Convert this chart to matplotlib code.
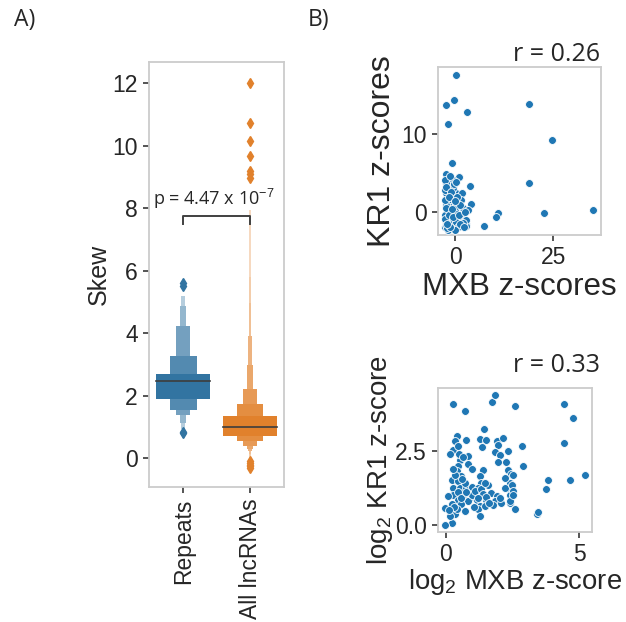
import matplotlib
matplotlib.use("Agg")
import matplotlib.pyplot as plt
import numpy as np

plt.rcParams['font.family'] = ['Liberation Sans', 'DejaVu Sans']
plt.rcParams['mathtext.fontset'] = 'custom'
plt.rcParams['mathtext.rm'] = 'Liberation Sans'
plt.rcParams['mathtext.it'] = 'Liberation Sans'
plt.rcParams['text.color'] = '#262626'
plt.rcParams['axes.labelcolor'] = '#262626'
plt.rcParams['xtick.color'] = '#262626'
plt.rcParams['ytick.color'] = '#262626'

# letter-value boxes (inner box first)
groups = ['Repeats', 'All lncRNAs']
repeats_upper = [2.70, 3.27, 4.23, 4.87, 5.19]
repeats_lower = [1.91, 1.53, 1.37, 1.12, 0.95]
repeats_median = 2.49
repeats_outliers = [5.50, 5.60, 0.85, 0.80]
lnc_upper = [1.355, 1.74, 2.22, 2.99, 3.91, 4.96, 5.81, 7.95]
lnc_lower = [0.725, 0.565, 0.40, 0.30, 0.22, 0.15, 0.08, 0.02]
lnc_median = 0.99
lnc_outliers = [12.03, 10.72, 10.17, 9.67, 9.20, 9.10, 8.98,
                -0.10, -0.15, -0.20, -0.25, -0.30]

# scatter values, raw z-scores
mxb_z = [0.17, -0.17, -2.4, 3.0, -1.9, 18.8, 24.7, 18.9, 35.2, 22.5, 10.9, 10.5, 7.4,
         -0.85, 3.8, 4.1, 0.9, 2.8,
         -2.2, 0.94, -0.5, -2.2, -2.2, 0.34, 1.78, -0.5, -1.78, 0.51, 2.04, -1.78, -0.08,
         -2.62, 2.04, -1.6, 1.6, -2.62, -0.5, 2.88, -2.62, -1.4, 0.76, -0.93, -2.2, 0.34,
         0.76, -1.78, -0.08, -2.2, -0.5, 1.6, 2.88, 3.3,
         -2.5, -2.4, -2.5, -2.3, -2.5, -2.3, -2.0, -1.2, -1.0, -1.2, -0.3, 0.2, -1.5,
         -0.6, 0.3, 1.0, 1.3, 0.5, -0.9, 1.9, 1.2, 2.4, -1.6, 0.0, 2.2, -2.0]
kr1_z = [17.6, 14.4, 13.7, 12.8, 11.3, 13.9, 9.2, 3.7, 0.3, -0.1, -0.1, -0.6, -1.7,
         6.25, 3.4, 1.1, 4.5, -1.5,
         4.89, 4.55, 4.12, 3.70, 2.42, 2.42, 2.5, 3.06, 1.36, 1.27, 0.51, 0.29, 0.29,
         -0.34, -0.34, -1.07, -0.98, -1.84, -1.75, -1.75, 2.85, 0.72, -0.56, -1.2, -1.2, -1.2,
         -1.84, -2.26, -2.26, 0.93, 1.78, 1.57, -0.98, 0.29,
         4.2, 3.2, 1.6, 0.5, -0.9, -1.6, -2.0, -1.8, 2.6, 4.6, 3.6, 3.9, -0.3,
         -0.6, 0.8, -0.3, 0.9, 2.0, 0.4, -1.3, -1.5, 0.1, 2.0, 1.4, -1.9, -1.5]

# scatter values, log2 z-scores
mxb_log = [0.27, 0.71, 1.73, 1.83, 2.61, 1.43, 0.40, 0.34, 0.77, 1.27, 1.52, 1.37, 1.90,
           2.15, 1.96, 0.27, 0.46, 0.15, 1.86, 2.02, 2.33, 0.52, 0.84, 0.46, 0.84, 1.96,
           2.27, 0.96, 0.40, 1.40, 1.27, 0.21, 0.58, 2.33, 2.46, 0.46, 0.27, 0.52, 0.77,
           0.96, 1.33, 1.58, 1.21, 0.27, 0.65, 0.96, 1.40, 1.71, 1.90, 2.33, 2.40, 2.21,
           2.40, 0.46, 0.84, 1.15, 1.52, 1.83, 2.08, 2.40, 0.21, 0.58, 1.27, 1.77, 2.58,
           -0.04, 0.34, 0.71, 1.21, 1.27, 0.21, -0.04, 0.96, 1.09, 0.71, 0.09, 0.40, 1.46,
           2.02, 4.43, 4.76, 2.86, 4.43, 2.88, 3.83, 3.77, 4.66, 5.23, 3.41, 3.44, 2.53,
           2.47, 2.51, 2.41,
           0.30, 0.45, 0.55, 0.60, 0.35, 0.50, 0.75, 1.30, 1.40, 1.50, 1.60, 1.20, 0.15,
           0.10, 1.45, 2.20, 2.50, 0.25, 0.65, 1.05]
kr1_log = [4.10, 3.87, 4.16, 4.40, 4.01, 3.23, 3.00, 2.83, 2.86, 2.92, 2.88, 2.64, 2.83,
           2.94, 2.71, 2.54, 2.66, 2.41, 2.47, 2.38, 2.49, 2.21, 2.32, 1.98, 2.06, 2.13,
           2.13, 1.90, 1.81, 1.87, 1.64, 1.53, 1.64, 1.87, 1.72, 1.48, 1.25, 1.25, 1.25,
           1.27, 1.42, 1.36, 1.25, 1.02, 1.02, 0.94, 1.02, 1.08, 0.97, 1.25, 1.42, 1.23,
           1.00, 0.85, 0.80, 0.85, 0.85, 0.80, 0.74, 0.74, 0.69, 0.69, 0.63, 0.66, 0.52,
           0.57, 0.35, 0.46, 0.52, 0.29, 0.07, -0.01, 1.02, 1.14, 1.42, 0.97, 0.52, 0.63,
           0.91, 4.10, 3.61, 2.68, 2.76, 2.00, 1.53, 1.21, 1.53, 1.69, 0.35, 0.43, 1.68,
           1.36, 1.14, 0.80,
           0.60, 1.10, 0.90, 1.55, 1.70, 2.40, 1.10, 1.20, 1.05, 0.95, 0.75, 0.90, 0.30,
           0.50, 1.40, 1.60, 1.00, 1.90, 2.30, 0.60]

blue = np.array(matplotlib.colors.to_rgb('#3274a1'))
orange = np.array(matplotlib.colors.to_rgb('#e1812c'))
spine_col = '#cccccc'
side_font = ['Open Sans', 'DejaVu Sans']


def lighten(c, f):
    return tuple(c + (1 - c) * f)


def boxen(ax, x, uppers, lowers, median, outliers, base, point_col):
    n = len(uppers)
    for k in range(n - 1, -1, -1):
        w = max(0.8 * 0.5 ** k, 0.022)
        col = lighten(base, 0.8 * k / n)
        ax.bar(x, uppers[k] - lowers[k], bottom=lowers[k], width=w, color=col, linewidth=0, zorder=2)
    ax.plot([x - 0.4, x + 0.4], [median, median], color='#3d3d3d', lw=1.2, zorder=3)
    ax.plot([x] * len(outliers), outliers, ls='none', marker='d', ms=5,
            color=point_col, mec=point_col, zorder=3)


def style_axes(ax):
    for s in ax.spines.values():
        s.set_color(spine_col)
        s.set_linewidth(1.3)
    ax.tick_params(labelsize=16.5, length=4.5, width=1.1)


fig = plt.figure(figsize=(6.26, 6.22), dpi=100)

ax1 = fig.add_axes([0.238, 0.217, 0.216, 0.683])
boxen(ax1, 0, repeats_upper, repeats_lower, repeats_median, repeats_outliers, blue, '#3274a1')
boxen(ax1, 1, lnc_upper, lnc_lower, lnc_median, lnc_outliers, orange, '#e1812c')
ax1.set_xlim(-0.51, 1.51)
ax1.set_ylim(-0.92, 12.68)
ax1.set_yticks([0, 2, 4, 6, 8, 10, 12])
ax1.set_xticks([0, 1])
ax1.set_xticklabels(groups, rotation=90)
ax1.set_ylabel('Skew', fontsize=18, labelpad=1)
style_axes(ax1)
ax1.plot([0, 0, 1, 1], [7.5, 7.77, 7.77, 7.5], color='#404040', lw=1.4, zorder=4)
ax1.text(0.46, 8.12, 'p = 4.47 x 10$^{-7}$', ha='center', va='baseline',
         fontsize=13, family=side_font)

ax2 = fig.add_axes([0.700, 0.622, 0.260, 0.270])
ax2.scatter(mxb_z, kr1_z, s=32, color='#1f77b4', edgecolor='white', linewidth=0.6, zorder=3)
ax2.set_xlim(-4.3, 37.1)
ax2.set_ylim(-2.9, 18.55)
ax2.set_xticks([0, 25])
ax2.set_yticks([0, 10])
ax2.set_xlabel('MXB z-scores', fontsize=22.5, labelpad=2)
ax2.set_ylabel('KR1 z-scores', fontsize=23, labelpad=3)
style_axes(ax2)

ax3 = fig.add_axes([0.700, 0.145, 0.246, 0.231])
ax3.scatter(mxb_log, kr1_log, s=32, color='#1f77b4', edgecolor='white', linewidth=0.6, zorder=3)
ax3.set_xlim(-0.29, 5.49)
ax3.set_ylim(-0.24, 4.63)
ax3.set_xticks([0, 5])
ax3.set_yticks([0, 2.5])
ax3.set_yticklabels(['0.0', '2.5'])
ax3.set_xlabel('log$_2$ MXB z-score', fontsize=19.8, labelpad=1)
ax3.set_ylabel('log$_2$ KR1 z-score', fontsize=20, labelpad=0)
style_axes(ax3)

fig.text(0.958, 0.902, 'r = 0.26', ha='right', va='baseline', fontsize=18, family=side_font)
fig.text(0.958, 0.402, 'r = 0.33', ha='right', va='baseline', fontsize=18, family=side_font)
fig.text(0.022, 0.987, 'A)', ha='left', va='top', fontsize=16.5, family=side_font)
fig.text(0.492, 0.987, 'B)', ha='left', va='top', fontsize=16.5, family=side_font)

fig.savefig('out.png', dpi=100)
